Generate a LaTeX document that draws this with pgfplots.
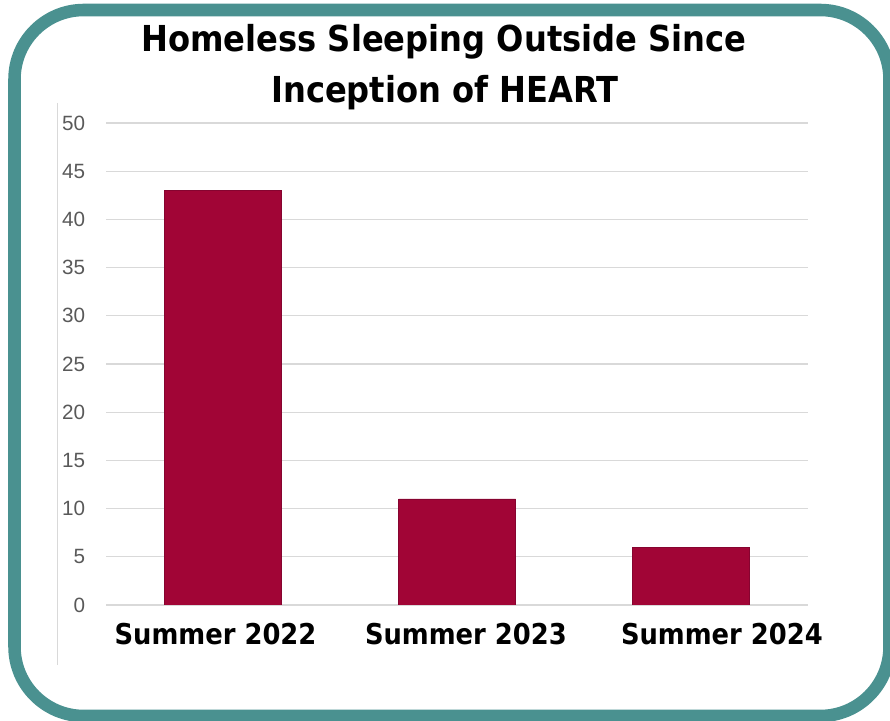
\documentclass[border=0pt]{standalone}
\usepackage{pgfplots}
\pgfplotsset{compat=1.18}
\usepackage{fontspec}
\setmainfont{Liberation Sans}
\newfontfamily\tfont{DejaVu Sans}[FakeStretch=0.9]
\definecolor{bordercol}{HTML}{4A9190}
\definecolor{barcol}{HTML}{A10536}
\definecolor{baredge}{HTML}{860430}
\definecolor{gridcol}{HTML}{D9D9D9}
\definecolor{tickcol}{HTML}{595959}
\begin{document}
\begin{tikzpicture}[x=0.75pt,y=0.75pt]
\useasboundingbox (0,0) rectangle (890,721);
\clip (0,0) rectangle (890,721);
\draw[line width=9.4pt, bordercol, rounded corners=52pt] (14.5,5) rectangle (889.5,711);
\draw[gridcol, line width=0.75pt] (57,618) -- (57,56);
\node[anchor=base, font=\tfont\bfseries\fontsize{26.8}{30}\selectfont] at (444,669) {Homeless Sleeping Outside Since};
\node[anchor=base, font=\tfont\bfseries\fontsize{26.8}{30}\selectfont] at (445,618) {Inception of HEART};
\coordinate (O) at (106,116);
\begin{axis}[
  at={(O)}, anchor=south west,
  scale only axis, width=526.5pt, height=361.5pt,
  xmin=-0.5, xmax=2.5, ymin=0, ymax=50,
  ytick={0,5,...,50}, xtick={-0.032,1.038,2.132},
  xticklabels={Summer 2022, Summer 2023, Summer 2024},
  /pgf/number format/assume math mode=true,
  ymajorgrids, grid style={gridcol, line width=0.9pt},
  axis x line*=bottom, x axis line style={gridcol, line width=0.9pt, -},
  axis y line*=left, y axis line style={draw=none},
  major tick length=0pt,
  yticklabel style={font=\fontsize{15.5}{17}\selectfont, color=tickcol, anchor=east, inner sep=0pt, xshift=-15.5pt},
  xticklabel style={font=\tfont\bfseries\fontsize{21.5}{24}\selectfont, color=black, anchor=base, inner sep=0pt, yshift=-30pt},
  ybar, bar width=0.5,
]
\addplot[fill=barcol, draw=baredge, line width=0.6pt] coordinates {(0,43) (1,11) (2,6)};
\end{axis}
\end{tikzpicture}
\end{document}
